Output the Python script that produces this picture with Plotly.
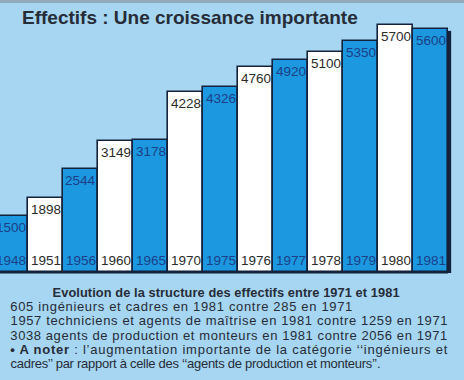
import json
import plotly.graph_objects as go

years = ["1948", "1951", "1956", "1960", "1965", "1970", "1975", "1976", "1977", "1978", "1979", "1980", "1981"]
effectifs = [1500, 1898, 2544, 3149, 3178, 4228, 4326, 4760, 4920, 5100, 5350, 5700, 5600]
bar_colors = ["#1b98e0" if i % 2 == 0 else "#ffffff" for i in range(len(years))]
text_colors = ["#1c3f86" if i % 2 == 0 else "#2b2b2b" for i in range(len(years))]

title = "Effectifs : Une croissance importante"
subtitle = "Evolution de la structure des effectifs entre 1971 et 1981"
notes = [
    "605 ingénieurs et cadres en 1981 contre 285 en 1971",
    "1957 techniciens et agents de maîtrise en 1981 contre 1259 en 1971",
    "3038 agents de production et monteurs en 1981 contre 2056 en 1971",
    "<b>• A noter</b> : l’augmentation importante de la catégorie ‘‘ingénieurs et",
    "cadres’’ par rapport à celle des ‘‘agents de production et monteurs’’.",
]

W, H = 464, 380
PLOT_BOTTOM = 273
BG = "#a6d6f1"
INK = "#262c38"
FONT = "Liberation Sans, Arial, sans-serif"

def py(p):
    return 1 - p / PLOT_BOTTOM

def px(p):
    return p / W

fig = go.Figure()
fig.add_trace(go.Bar(
    x=list(range(len(years))),
    y=effectifs,
    width=1.0,
    marker=dict(color=bar_colors, line=dict(color="#15223d", width=1.6)),
    hoverinfo="skip",
))

annotations = []
for i, (yr, v) in enumerate(zip(years, effectifs)):
    annotations.append(dict(
        x=i, y=py(260.5), xref="x", yref="paper", text=yr, showarrow=False,
        xanchor="center", yanchor="middle",
        font=dict(family=FONT, size=13.5, color=text_colors[i]),
    ))
for i, v in enumerate(effectifs):
    annotations.append(dict(
        x=i, y=v, xref="x", yref="y", text=str(v), showarrow=False,
        xanchor="center", yanchor="top", yshift=-2,
        font=dict(family=FONT, size=13.5, color=text_colors[i]),
    ))

annotations.append(dict(
    x=px(20), y=py(17), xref="paper", yref="paper", text="<b>" + title + "</b>",
    showarrow=False, xanchor="left", yanchor="middle",
    font=dict(family=FONT, size=19, color=INK),
))

# horizontal spans of the caption lines, used to stretch them like the justified print
text_spans = {}
idx = len(annotations)
annotations.append(dict(
    x=px((52 + 399) / 2), y=py(292.5), xref="paper", yref="paper", text="<b>" + subtitle + "</b>",
    showarrow=False, xanchor="center", yanchor="middle",
    font=dict(family=FONT, size=12.8, color=INK),
))
text_spans[idx] = 399 - 52

line_y = [306, 320.5, 335, 349, 363]
line_right = [352, 447, 447, 447, 380]
LEFT = 10
for t, yy, r in zip(notes, line_y, line_right):
    idx = len(annotations)
    annotations.append(dict(
        x=px((LEFT + r) / 2), y=py(yy), xref="paper", yref="paper", text=t,
        showarrow=False, xanchor="center", yanchor="middle",
        font=dict(family=FONT, size=13, color=INK),
    ))
    text_spans[idx] = r - LEFT

n = len(years)
shapes = [
    dict(type="line", xref="x", yref="paper", x0=-0.5, x1=n - 0.5, y0=0.004, y1=0.004,
         line=dict(color="#15223d", width=3)),
    dict(type="rect", xref="x", yref="y", x0=n - 0.5, x1=n - 0.5 + 0.09,
         y0=0, y1=effectifs[-1] - 40, fillcolor="#15223d", line=dict(width=0), layer="below"),
    dict(type="rect", xref="paper", yref="paper", x0=0, x1=1, y0=py(3), y1=1,
         fillcolor="#93aabb", line=dict(width=0)),
]

fig.update_layout(
    width=W, height=H,
    margin=dict(l=0, r=0, t=0, b=H - PLOT_BOTTOM, pad=0),
    paper_bgcolor=BG, plot_bgcolor=BG,
    bargap=0,
    showlegend=False,
    xaxis=dict(range=[-0.3, -0.3 + W / 35.0], showgrid=False, zeroline=False,
               showticklabels=False, ticks="", showline=False, fixedrange=True),
    yaxis=dict(range=[260, 6237], showgrid=False, zeroline=False,
               showticklabels=False, ticks="", showline=False, fixedrange=True),
    annotations=annotations,
    shapes=shapes,
)

post = """
document.body.style.margin='0';
document.body.style.overflow='hidden';
var spans = %s;
var gd = document.getElementById('{plot_id}');
gd.querySelectorAll('g.annotation').forEach(function(g){
  var k = g.getAttribute('data-index');
  if (spans[k] !== undefined) {
    var t = g.querySelector('text.annotation-text');
    if (t) { t.setAttribute('textLength', spans[k]); t.setAttribute('lengthAdjust', 'spacing'); }
  }
});
""" % json.dumps({str(k): v for k, v in text_spans.items()})

fig.write_html("out.html", config={"displayModeBar": False}, post_script=post)
